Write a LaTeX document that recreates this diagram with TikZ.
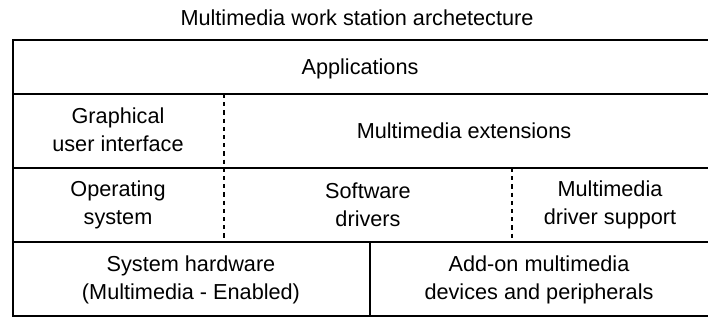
\documentclass[tikz,border=0pt]{standalone}
\usepackage{fontspec}
\setmainfont{Liberation Sans}
\usepackage{tikz}

\begin{document}
\begin{tikzpicture}[x=0.03cm, y=-0.03cm, line width=1.1pt,
	layer/.style={align=center, font=\fontsize{18.5}{23.5}\selectfont},
	split/.style={dash pattern=on 3.5pt off 3.5pt}]
		\useasboundingbox (0,0) rectangle (708,322);
		% outer frame, open at the right edge
		\draw (708,40) -- (13,40) -- (13,316) -- (708,316);
		\draw (13,94) -- (708,94);
		\draw (13,168) -- (708,168);
		\draw (13,242) -- (708,242);
		
		\draw[split] (224,94) -- (224,242);
		\draw[split] (512,168) -- (512,242);
		\draw (370,242) -- (370,316);
		
		\node[layer] (title) at (357,18) {Multimedia work station archetecture};
		\node[layer] (apps) at (360,69) {Applications};
		
		\node[layer] (gui) at (118,130) {Graphical\\ user interface};
		\node[layer] (ext) at (464,131) {Multimedia extensions};
		
		\node[layer] (os) at (118,205) {Operating\\ system};
		\node[layer] (drv) at (368,205) {Software\\ drivers};
		\node[layer] (mds) at (610,205) {Multimedia\\ driver support};
		
		\node[layer] (hw) at (191,280) {System hardware\\ (Multimedia - Enabled)};
		\node[layer] (addon) at (539,280) {Add-on multimedia\\ devices and peripherals};
		\end{tikzpicture}
\end{document}
